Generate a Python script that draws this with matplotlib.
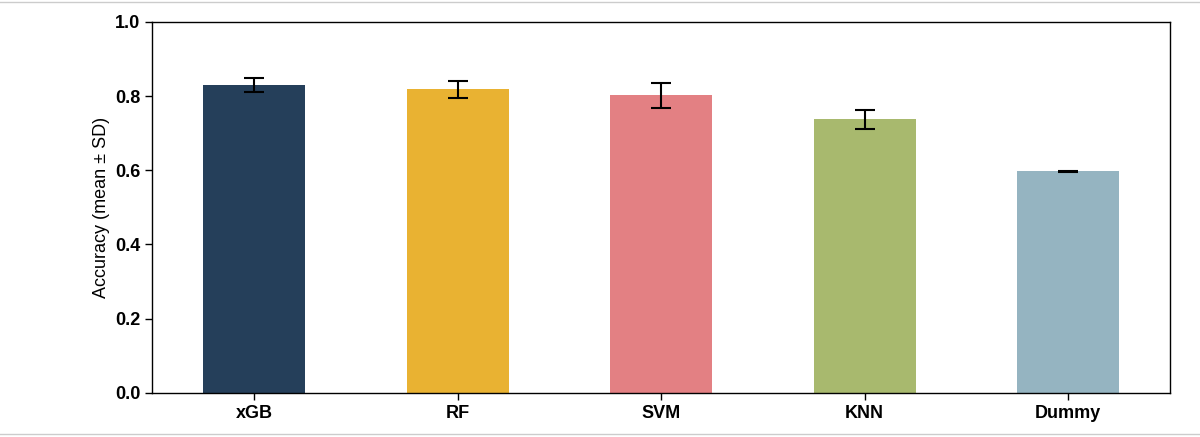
import numpy as np
import matplotlib.pyplot as plt
from matplotlib.lines import Line2D

plt.rcParams["font.family"] = ["Liberation Sans", "DejaVu Sans"]

models = ["xGB", "RF", "SVM", "KNN", "Dummy"]
acc_mean = [0.830, 0.818, 0.802, 0.737, 0.597]
acc_sd = [0.020, 0.022, 0.033, 0.025, 0.002]
colors = ["#253F5A", "#E9B232", "#E38083", "#A8B96E", "#95B4C1"]

fig = plt.figure(figsize=(12, 4.37), dpi=100)
ax = fig.add_axes([0.127, 0.101, 0.848, 0.849])

x = np.arange(len(models))
ax.bar(x, acc_mean, 0.5, color=colors, yerr=acc_sd, capsize=7,
       error_kw={"elinewidth": 1.5, "capthick": 1.5, "ecolor": "black"})

ax.set_xlim(-0.5, 4.5)
ax.set_ylim(0, 1.0)
ax.set_yticks(np.arange(0, 1.01, 0.2))
ax.set_yticklabels([f"{v:.1f}" for v in np.arange(0, 1.01, 0.2)],
                   fontweight="bold", fontsize=13)
ax.set_xticks(x)
ax.set_xticklabels(models, fontweight="bold", fontsize=13)
ax.set_ylabel("Accuracy (mean ± SD)", fontsize=13)
ax.tick_params(length=5, width=1)
for s in ax.spines.values():
    s.set_linewidth(1)

# faint frame lines at top and bottom of the figure
fig.add_artist(Line2D([0, 1], [0.995, 0.995], color="#cccccc", lw=1))
fig.add_artist(Line2D([0, 1], [0.008, 0.008], color="#cccccc", lw=1))

plt.savefig("out.png")
